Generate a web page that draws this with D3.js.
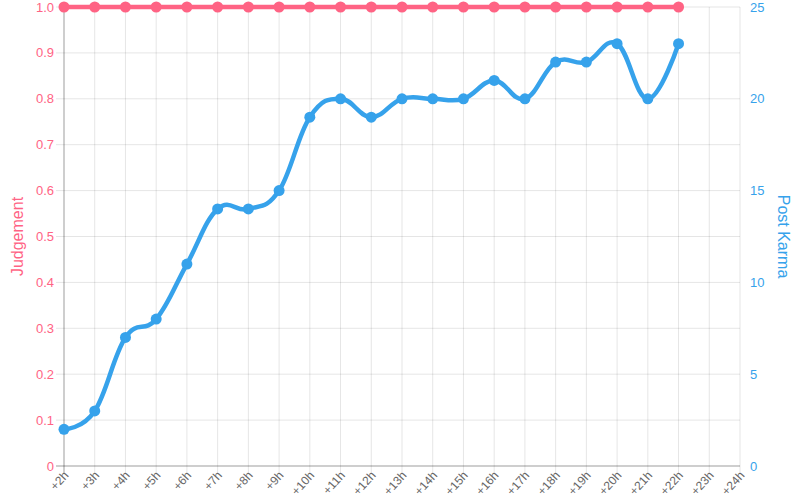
<!DOCTYPE html>
<html><head><meta charset="utf-8">
<script src="https://cdn.jsdelivr.net/npm/d3@7"></script>
<style>body{margin:0;background:#fff}svg{display:block}text{font-family:"Liberation Sans",Arial,sans-serif}</style>
</head><body><svg id="c" width="800" height="500"></svg>
<script>
const labels = ["+2h","+3h","+4h","+5h","+6h","+7h","+8h","+9h","+10h","+11h","+12h","+13h","+14h","+15h","+16h","+17h","+18h","+19h","+20h","+21h","+22h","+23h","+24h"];
const judgement = [1,1,1,1,1,1,1,1,1,1,1,1,1,1,1,1,1,1,1,1,1];
const karma = [2,3,7,8,11,14,14,15,19,20,19,20,20,20,21,20,22,22,23,20,23];
const leftTicks = [0,0.1,0.2,0.3,0.4,0.5,0.6,0.7,0.8,0.9,1.0];
const rightTicks = [0,5,10,15,20,25];

const red = "#ff6384", blue = "#36a2eb";
const L = 64, R = 740, T = 7, B = 466;
const svg = d3.select("#c");
const x = d3.scalePoint().domain(labels).range([L, R]);
const yL = d3.scaleLinear().domain([0,1]).range([B, T]);
const yR = d3.scaleLinear().domain([0,25]).range([B, T]);

const g = svg.append("g");
// grid
g.selectAll(".hg").data(leftTicks).enter().append("line")
  .attr("x1", L-8).attr("x2", R).attr("y1", d=>yL(d)).attr("y2", d=>yL(d))
  .attr("stroke", "rgba(0,0,0,0.1)");
g.selectAll(".vg").data(labels).enter().append("line")
  .attr("x1", d=>x(d)).attr("x2", d=>x(d)).attr("y1", T).attr("y2", B+8)
  .attr("stroke", "rgba(0,0,0,0.1)");
// axis lines
g.append("line").attr("x1", L).attr("x2", L).attr("y1", T).attr("y2", B+8).attr("stroke", "rgba(0,0,0,0.3)");
g.append("line").attr("x1", L-8).attr("x2", R).attr("y1", B).attr("y2", B).attr("stroke", "rgba(0,0,0,0.3)");

// left tick labels
g.selectAll(".lt").data(leftTicks).enter().append("text")
  .attr("x", L-10).attr("y", d=>yL(d)).attr("dy", "0.35em").attr("text-anchor", "end")
  .attr("font-size", 13).attr("fill", red).text(d => d===0 ? "0" : d.toFixed(1));
g.selectAll(".rt").data(rightTicks).enter().append("text")
  .attr("x", R+10).attr("y", d=>yR(d)).attr("dy", "0.35em").attr("text-anchor", "start")
  .attr("font-size", 13).attr("fill", blue).text(d => d);
// x labels
g.selectAll(".xt").data(labels).enter().append("text")
  .attr("transform", d => `translate(${x(d)+2},${B+7}) rotate(-48)`)
  .attr("text-anchor", "end").attr("dy", "0.35em")
  .attr("font-size", 12).attr("fill", "#666").text(d => d);

// axis titles
svg.append("text").attr("transform", `translate(17,${(T+B)/2}) rotate(-90)`)
  .attr("text-anchor", "middle").attr("dy", "0.35em").attr("font-size", 16).attr("fill", red).text("Judgement");
svg.append("text").attr("transform", `translate(784,${(T+B)/2}) rotate(90)`)
  .attr("text-anchor", "middle").attr("dy", "0.35em").attr("font-size", 16).attr("fill", blue).text("Post Karma");

const curve = d3.curveCardinal.tension(-0.2);
// karma
const lk = d3.line().x((d,i)=>x(labels[i])).y(d=>yR(d)).curve(curve);
svg.append("path").datum(karma).attr("d", lk).attr("fill","none").attr("stroke", blue).attr("stroke-width", 4.5);
svg.selectAll(".kp").data(karma).enter().append("circle")
  .attr("cx", (d,i)=>x(labels[i])).attr("cy", d=>yR(d)).attr("r", 5.5).attr("fill", blue);
// judgement
const lj = d3.line().x((d,i)=>x(labels[i])).y(d=>yL(d)).curve(curve);
svg.append("path").datum(judgement).attr("d", lj).attr("fill","none").attr("stroke", red).attr("stroke-width", 4.5);
svg.selectAll(".jp").data(judgement).enter().append("circle")
  .attr("cx", (d,i)=>x(labels[i])).attr("cy", d=>yL(d)).attr("r", 5.5).attr("fill", red);
</script></body></html>
